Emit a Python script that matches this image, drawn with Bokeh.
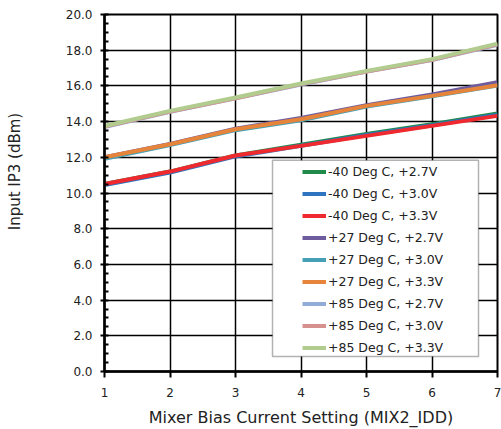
from bokeh.plotting import figure
from bokeh.models import (Range1d, SingleIntervalTicker, NumeralTickFormatter, Legend,
                          LegendItem, BoxAnnotation)
from bokeh.embed import file_html
from bokeh.resources import INLINE

# ---- data ----
bias_setting = [1, 2, 3, 4, 5, 6, 7]
m40_27 = [10.50, 11.20, 12.10, 12.70, 13.30, 13.85, 14.45]
m40_30 = [10.45, 11.15, 12.05, 12.65, 13.25, 13.80, 14.38]
m40_33 = [10.50, 11.20, 12.10, 12.64, 13.20, 13.76, 14.32]
p27_27 = [12.00, 12.75, 13.60, 14.20, 14.92, 15.52, 16.20]
p27_30 = [11.92, 12.68, 13.52, 14.08, 14.84, 15.42, 16.02]
p27_33 = [12.00, 12.73, 13.57, 14.13, 14.88, 15.44, 16.04]
p85_27 = [13.70, 14.55, 15.30, 16.08, 16.80, 17.45, 18.30]
p85_30 = [13.72, 14.56, 15.30, 16.10, 16.80, 17.46, 18.33]
p85_33 = [13.75, 14.60, 15.35, 16.13, 16.84, 17.50, 18.37]

series_labels = ["-40 Deg C, +2.7V", "-40 Deg C, +3.0V", "-40 Deg C, +3.3V",
                 "+27 Deg C, +2.7V", "+27 Deg C, +3.0V", "+27 Deg C, +3.3V",
                 "+85 Deg C, +2.7V", "+85 Deg C, +3.0V", "+85 Deg C, +3.3V"]
series_values = [m40_27, m40_30, m40_33, p27_27, p27_30, p27_33, p85_27, p85_30, p85_33]
series_colors = ["#1f8a4a", "#2e74c0", "#ee2a2e", "#6f5c9e", "#45a0b6",
                 "#e5843a", "#92acd8", "#d6918f", "#b1cc8e"]

x_label = "Mixer Bias Current Setting (MIX2_IDD)"
y_label = "Input IP3 (dBm)"

FONT = "DejaVu Sans"

p = figure(width=501, height=429, output_backend="svg", toolbar_location=None,
           x_range=Range1d(1, 7), y_range=Range1d(0, 20),
           min_border_left=104, min_border_right=4, min_border_top=14, min_border_bottom=10)

p.background_fill_color = "white"
p.border_fill_color = "white"
p.outline_line_color = "black"
p.outline_line_width = 2

# axes
p.xaxis.ticker = SingleIntervalTicker(interval=1, num_minor_ticks=0)
p.yaxis.ticker = SingleIntervalTicker(interval=2, num_minor_ticks=4)
p.yaxis.formatter = NumeralTickFormatter(format="0.0")

for ax in (p.xaxis[0], p.yaxis[0]):
    ax.axis_line_color = "black"
    ax.axis_line_width = 2.5
    ax.major_tick_line_color = "black"
    ax.major_tick_line_width = 2
    ax.minor_tick_line_color = "black"
    ax.minor_tick_line_width = 2
    ax.major_label_text_font = FONT
    ax.major_label_text_font_size = "12px"
    ax.major_label_text_color = "#222222"
    ax.axis_label_text_font = FONT
    ax.axis_label_text_font_style = "normal"
    ax.axis_label_text_color = "#222222"

p.xaxis.axis_label = x_label
p.xaxis.axis_label_text_font_size = "16px"
p.xaxis.major_tick_out = 6
p.xaxis.major_tick_in = 0
p.xaxis.major_label_standoff = 10
p.xaxis.axis_label_standoff = 8

# leading no-break spaces lift the rotated title above the frame centre, as in the reference
p.yaxis.axis_label = "\u00a0" * 9 + y_label
p.yaxis.axis_label_text_font_size = "15px"
p.yaxis.axis_label_standoff = 39
p.yaxis.major_tick_out = 4
p.yaxis.major_tick_in = 0
p.yaxis.minor_tick_in = 4
p.yaxis.minor_tick_out = 0
p.yaxis.major_label_standoff = 8

# grid
p.xgrid.grid_line_color = "black"
p.xgrid.grid_line_width = 1.5
p.ygrid.grid_line_color = "black"
p.ygrid.grid_line_width = 1.5

# lines
items = []
for lab, vals, col in zip(series_labels, series_values, series_colors):
    r = p.line(bias_setting, vals, line_color=col, line_width=4)
    items.append(LegendItem(label=lab, renderers=[r]))

# legend frame
box = BoxAnnotation(left=3.565, right=6.71, bottom=0.835, top=11.84,
                    fill_color="white", fill_alpha=1.0,
                    line_color="black", line_width=1.5)
p.add_layout(box)

legend = Legend(items=items, location=(198, 13))
legend.background_fill_alpha = 0
legend.border_line_alpha = 0
legend.padding = 0
legend.margin = 0
legend.spacing = 1
legend.glyph_width = 24
legend.glyph_height = 21
legend.label_height = 21
legend.label_standoff = 2
legend.label_text_font = FONT
legend.label_text_font_size = "12.5px"
legend.label_text_color = "#222222"
p.add_layout(legend)

open("out.html", "w").write(file_html(p, INLINE))
